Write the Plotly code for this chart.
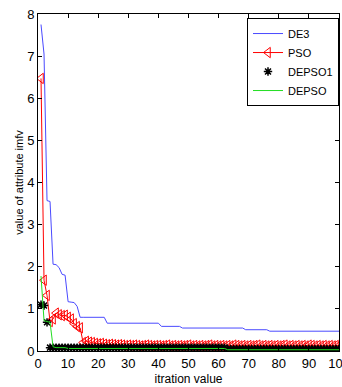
import plotly.graph_objects as go

# Iteration index (1..100)
iterations = list(range(1, 101))

# Best value of the attribute imfv per iteration for each optimiser
de3 = [
    7.75, 7.05, 3.57, 3.55, 2.06, 2.05, 1.98, 1.82, 1.80, 1.17,
    1.16, 1.15, 1.06, 0.80, 0.80, 0.80, 0.80, 0.80, 0.80, 0.80,
    0.80, 0.80, 0.66, 0.66, 0.66, 0.66, 0.66, 0.66, 0.66, 0.66,
    0.66, 0.66, 0.66, 0.66, 0.66, 0.66, 0.66, 0.66, 0.66, 0.66,
    0.585, 0.585, 0.585, 0.585, 0.585, 0.585, 0.585, 0.545, 0.545, 0.545,
    0.545, 0.545, 0.545, 0.545, 0.545, 0.545, 0.545, 0.545, 0.545, 0.545,
    0.545, 0.545, 0.545, 0.545, 0.545, 0.545, 0.545, 0.545, 0.505, 0.505,
    0.505, 0.505, 0.505, 0.505, 0.505, 0.505, 0.47, 0.47, 0.47, 0.47,
    0.47, 0.47, 0.47, 0.47, 0.47, 0.47, 0.47, 0.47, 0.47, 0.47,
    0.47, 0.47, 0.47, 0.47, 0.47, 0.47, 0.47, 0.47, 0.47, 0.47,
]

pso = [
    6.47, 1.68, 1.32, 0.70, 0.76, 0.90, 0.86, 0.84, 0.85, 0.80,
    0.76, 0.65, 0.58, 0.55, 0.20, 0.23, 0.21, 0.20, 0.18, 0.17,
    0.18, 0.16, 0.15, 0.16, 0.15, 0.14, 0.15, 0.14, 0.13, 0.14,
    0.13, 0.14, 0.13, 0.12, 0.13, 0.14, 0.13, 0.12, 0.13, 0.13,
    0.12, 0.13, 0.14, 0.12, 0.13, 0.12, 0.13, 0.12, 0.13, 0.14,
    0.12, 0.13, 0.12, 0.13, 0.12, 0.13, 0.14, 0.12, 0.13, 0.12,
    0.13, 0.12, 0.13, 0.12, 0.14, 0.13, 0.12, 0.13, 0.12, 0.13,
    0.12, 0.13, 0.14, 0.12, 0.13, 0.12, 0.13, 0.12, 0.13, 0.12,
    0.13, 0.14, 0.12, 0.13, 0.12, 0.13, 0.12, 0.13, 0.12, 0.14,
    0.13, 0.12, 0.13, 0.12, 0.13, 0.12, 0.13, 0.12, 0.13, 0.13,
]

depso1 = [
    1.10, 1.08, 0.68, 0.08, 0.08, 0.08, 0.08, 0.08, 0.08, 0.08,
    0.08, 0.08, 0.08, 0.08, 0.08, 0.08, 0.08, 0.08, 0.08, 0.08,
    0.08, 0.08, 0.08, 0.08, 0.08, 0.08, 0.08, 0.08, 0.08, 0.08,
    0.08, 0.08, 0.08, 0.08, 0.08, 0.08, 0.08, 0.08, 0.08, 0.08,
    0.08, 0.08, 0.08, 0.08, 0.08, 0.08, 0.08, 0.08, 0.08, 0.08,
    0.08, 0.08, 0.08, 0.08, 0.08, 0.08, 0.08, 0.08, 0.08, 0.08,
    0.08, 0.08, 0.05, 0.05, 0.05, 0.05, 0.05, 0.05, 0.05, 0.05,
    0.05, 0.05, 0.05, 0.05, 0.05, 0.05, 0.05, 0.05, 0.05, 0.05,
    0.05, 0.05, 0.05, 0.05, 0.05, 0.05, 0.05, 0.05, 0.05, 0.05,
    0.05, 0.05, 0.05, 0.05, 0.05, 0.05, 0.05, 0.05, 0.05, 0.05,
]

depso = [
    1.78, 0.72, 0.70, 0.68, 0.10, 0.08, 0.08, 0.08, 0.08, 0.06,
    0.06, 0.06, 0.06, 0.06, 0.06, 0.06, 0.06, 0.06, 0.06, 0.06,
    0.06, 0.06, 0.06, 0.06, 0.06, 0.06, 0.06, 0.06, 0.06, 0.06,
    0.06, 0.06, 0.06, 0.06, 0.06, 0.06, 0.06, 0.06, 0.06, 0.06,
    0.06, 0.06, 0.06, 0.06, 0.06, 0.06, 0.06, 0.06, 0.06, 0.06,
    0.06, 0.06, 0.06, 0.06, 0.06, 0.06, 0.06, 0.06, 0.06, 0.06,
    0.06, 0.06, 0.03, 0.03, 0.03, 0.03, 0.03, 0.03, 0.03, 0.03,
    0.03, 0.03, 0.03, 0.03, 0.03, 0.03, 0.03, 0.03, 0.03, 0.03,
    0.03, 0.03, 0.03, 0.03, 0.03, 0.03, 0.03, 0.03, 0.03, 0.03,
    0.03, 0.03, 0.03, 0.03, 0.03, 0.03, 0.03, 0.03, 0.03, 0.03,
]

x_ticks = [0, 10, 20, 30, 40, 50, 60, 70, 80, 90, 100]
y_ticks = [0, 1, 2, 3, 4, 5, 6, 7, 8]

NARROW = "Liberation Sans Narrow, Arial Narrow, Liberation Sans, Arial, sans-serif"
REGULAR = "Liberation Sans, Arial, sans-serif"

fig = go.Figure()

fig.add_trace(go.Scatter(
    x=iterations, y=de3, name="DE3", mode="lines",
    line=dict(color="#4a4aff", width=1),
))
fig.add_trace(go.Scatter(
    x=iterations, y=pso, name="PSO", mode="lines+markers",
    line=dict(color="#ff0000", width=1),
    marker=dict(symbol="triangle-left-open", size=9, color="#ff0000",
                line=dict(color="#ff0000", width=1)),
))
fig.add_trace(go.Scatter(
    x=iterations, y=depso1, name="DEPSO1", mode="markers",
    marker=dict(symbol="asterisk-open", size=7, color="#000000",
                line=dict(color="#000000", width=1.5)),
))
fig.add_trace(go.Scatter(
    x=iterations, y=depso, name="DEPSO", mode="lines",
    line=dict(color="#22dd22", width=1),
))

axis_common = dict(
    showline=True, linecolor="black", linewidth=1, mirror="ticks",
    ticks="inside", ticklen=4, tickcolor="black", tickwidth=1,
    showgrid=False, zeroline=False, ticklabeloverflow="allow",
    tickfont=dict(family=NARROW, size=13, color="black"),
)

fig.update_layout(
    width=342, height=387,
    margin=dict(l=38, r=3, t=14, b=36),
    paper_bgcolor="white", plot_bgcolor="white",
    xaxis=dict(range=[0, 100], tickvals=x_ticks, automargin=False,
               title=dict(text="itration value", standoff=5,
                          font=dict(family=NARROW, size=12, color="black")),
               **axis_common),
    yaxis=dict(range=[0, 8], tickvals=y_ticks,
               title=dict(text="value of attribute imfv", standoff=1,
                          font=dict(family=REGULAR, size=11, color="black")),
               **axis_common),
    legend=dict(
        x=1, xanchor="right", y=0.988, yanchor="top",
        bgcolor="white", bordercolor="black", borderwidth=1,
        font=dict(family=NARROW, size=11, color="black"),
        itemwidth=30, tracegroupgap=0,
    ),
    showlegend=True,
)

fig.write_html("out.html")
